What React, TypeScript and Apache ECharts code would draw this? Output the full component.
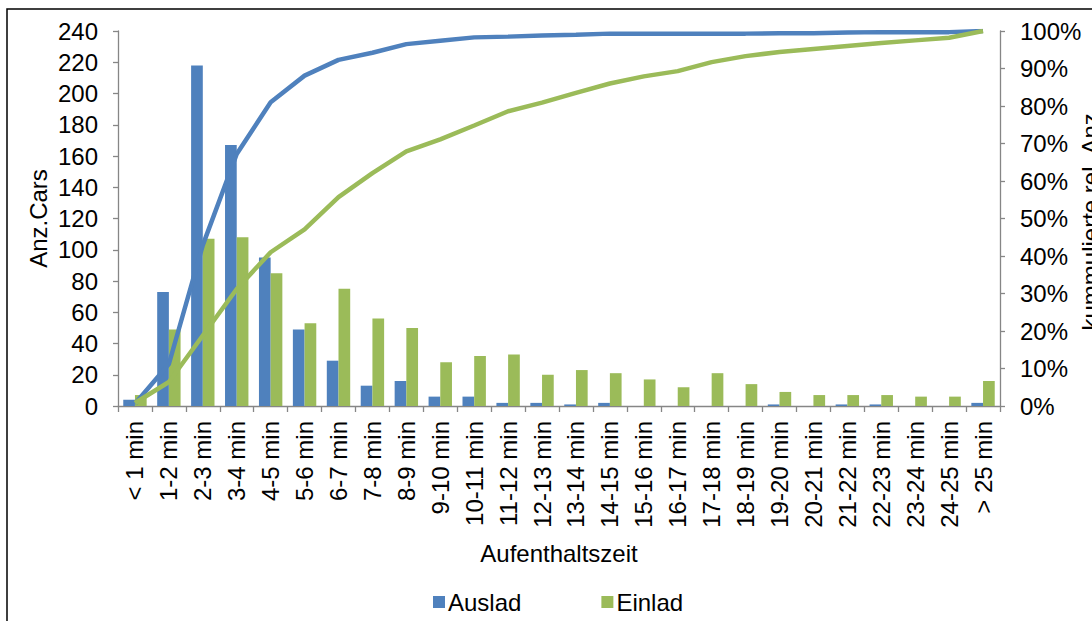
import React, { useEffect, useRef } from "react";
import * as echarts from "echarts";

// Dwell-time classes
const categories = [
  "< 1 min", "1-2 min", "2-3 min", "3-4 min", "4-5 min", "5-6 min", "6-7 min",
  "7-8 min", "8-9 min", "9-10 min", "10-11 min", "11-12 min", "12-13 min",
  "13-14 min", "14-15 min", "15-16 min", "16-17 min", "17-18 min", "18-19 min",
  "19-20 min", "20-21 min", "21-22 min", "22-23 min", "23-24 min", "24-25 min",
  "> 25 min",
];

// Number of cars per class
const auslad = [4, 73, 218, 167, 95, 49, 29, 13, 16, 6, 6, 2, 2, 1, 2, 0, 0, 0, 0, 1, 0, 1, 1, 0, 0, 2];
const einlad = [7, 49, 107, 108, 85, 53, 75, 56, 50, 28, 32, 33, 20, 23, 21, 17, 12, 21, 14, 9, 7, 7, 7, 6, 6, 16];

// Cumulative relative counts in percent
const cumAuslad = [0.6, 11.2, 42.9, 67.2, 81.0, 88.1, 92.3, 94.2, 96.5, 97.4, 98.3, 98.5, 98.8, 99.0, 99.3, 99.3, 99.3, 99.3, 99.3, 99.4, 99.4, 99.6, 99.7, 99.7, 99.7, 100];
const cumEinlad = [0.8, 6.4, 18.8, 31.2, 41.0, 47.1, 55.7, 62.1, 67.9, 71.1, 74.8, 78.6, 80.9, 83.5, 86.0, 87.9, 89.3, 91.7, 93.3, 94.4, 95.2, 96.0, 96.8, 97.5, 98.2, 100];

const BLUE = "#4F81BD";
const GREEN = "#9BBB59";
const AXIS = "#868686";
const FONT = "'Liberation Sans', Arial, sans-serif";
const FS = 24;

export default function App() {
  const ref = useRef<HTMLDivElement>(null);

  useEffect(() => {
    if (!ref.current) return;
    const chart = echarts.init(ref.current, null, { renderer: "svg" });
    const axisLine = { show: true, lineStyle: { color: AXIS, width: 1.3 } };
    const tick = { show: true, length: 5, lineStyle: { color: AXIS, width: 1.3 } };
    const txt = { fontFamily: FONT, fontSize: FS, color: "#000" };
    chart.setOption({
      animation: false,
      backgroundColor: "#fff",
      textStyle: { fontFamily: FONT, color: "#000", fontSize: FS },
      grid: {
        left: 118,
        right: 92,
        top: 31,
        bottom: 215,
        containLabel: false,
        outerBoundsMode: "none",
      },
      graphic: [
        {
          type: "rect",
          shape: { x: 7, y: 9, width: 1200, height: 700 },
          style: { fill: "none", stroke: "#000", lineWidth: 1.5 },
          silent: true,
        },
      ],
      legend: {
        data: ["Auslad", "Einlad"],
        left: 428,
        top: 585,
        icon: "rect",
        itemWidth: 12,
        itemHeight: 12,
        itemGap: 80,
        textStyle: { ...txt, padding: [0, 0, 0, -2] },
      },
      xAxis: {
        type: "category",
        data: categories,
        name: "Aufenthaltszeit",
        nameLocation: "middle",
        nameGap: 135,
        nameMoveOverlap: false,
        nameTextStyle: txt,
        axisLine,
        axisTick: { ...tick, length: 6 },
        axisLabel: { ...txt, rotate: 90, margin: 15, interval: 0 },
        splitLine: { show: false },
      },
      yAxis: [
        {
          type: "value",
          min: 0,
          max: 240,
          interval: 20,
          name: "Anz.Cars",
          nameLocation: "middle",
          nameRotate: 90,
          nameGap: 68,
          nameMoveOverlap: false,
          nameTextStyle: txt,
          axisLine,
          axisTick: tick,
          axisLabel: { ...txt, margin: 20 },
          splitLine: { show: false },
        },
        {
          type: "value",
          min: 0,
          max: 100,
          interval: 10,
          position: "right",
          name: "kummulierte rel. Anz.",
          nameLocation: "middle",
          nameRotate: 90,
          nameGap: 78,
          nameMoveOverlap: false,
          nameTextStyle: txt,
          axisLine,
          axisTick: tick,
          axisLabel: { ...txt, margin: 20, formatter: "{value}%" },
          splitLine: { show: false },
        },
      ],
      series: [
        {
          name: "Auslad",
          type: "bar",
          data: auslad,
          barWidth: 11.7,
          barGap: "0%",
          itemStyle: { color: BLUE },
        },
        {
          name: "Einlad",
          type: "bar",
          data: einlad,
          barWidth: 11.7,
          barGap: "0%",
          itemStyle: { color: GREEN },
        },
        {
          name: "Auslad kumuliert",
          type: "line",
          yAxisIndex: 1,
          data: cumAuslad,
          showSymbol: false,
          symbol: "none",
          lineStyle: { color: BLUE, width: 4.5 },
          itemStyle: { color: BLUE },
          z: 5,
        },
        {
          name: "Einlad kumuliert",
          type: "line",
          yAxisIndex: 1,
          data: cumEinlad,
          showSymbol: false,
          symbol: "none",
          lineStyle: { color: GREEN, width: 4.5 },
          itemStyle: { color: GREEN },
          z: 5,
        },
      ],
    });
    return () => chart.dispose();
  }, []);

  return (
    <div
      ref={ref}
      style={{ position: "absolute", left: 0, top: 0, width: 1092, height: 621 }}
    />
  );
}
